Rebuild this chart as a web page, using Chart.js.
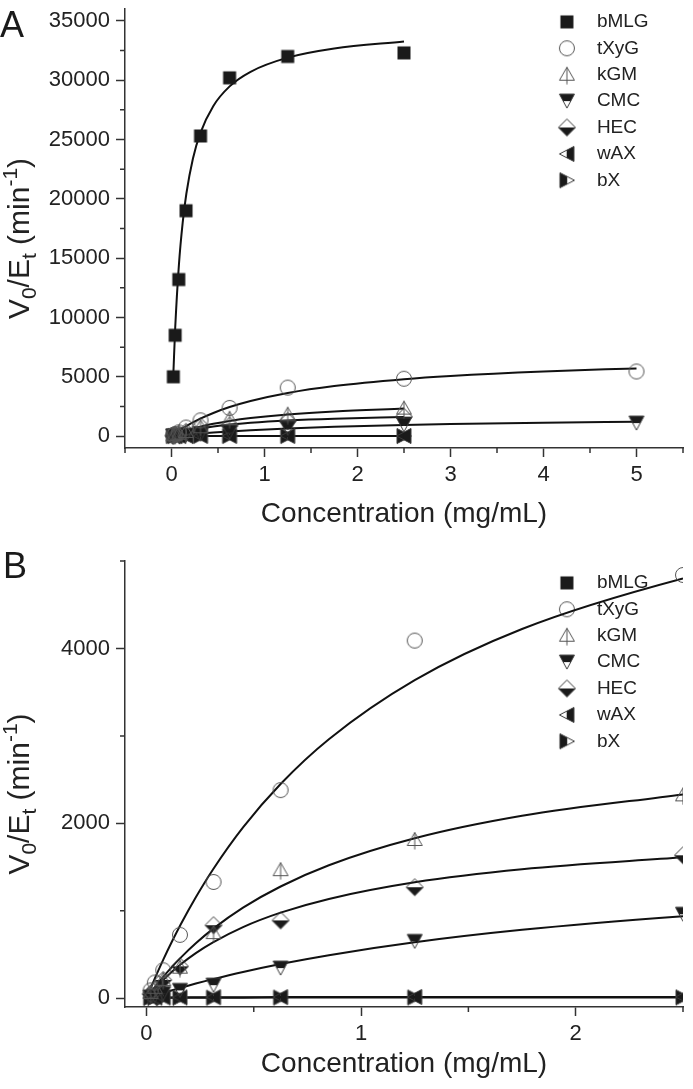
<!DOCTYPE html>
<html>
<head>
<meta charset="utf-8">
<script src="https://cdn.jsdelivr.net/npm/chart.js@4.4.0/dist/chart.umd.min.js"></script>
<style>
html, body { margin: 0; padding: 0; background: #fff; }
body { width: 693px; height: 1089px; position: relative; overflow: hidden; font-family: 'Liberation Sans', Arial, sans-serif; }
canvas { position: absolute; left: 0; }
#cA { top: 0; }
#cB { top: 545px; }
.tag { position: absolute; font-size: 36px; line-height: 36px; color: #1a1a1a; }
</style>
</head>
<body>
<canvas id="cA" width="693" height="545"></canvas>
<canvas id="cB" width="693" height="544"></canvas>
<div class="tag" style="left:0;top:7px">A</div>
<div class="tag" style="left:3px;top:548px">B</div>
<script>
// substrate concentrations (mg/mL)
var conc = [0.0195, 0.039, 0.078, 0.156, 0.3125, 0.625, 1.25, 2.5];
var concLong = [0.0195, 0.039, 0.078, 0.156, 0.3125, 0.625, 1.25, 2.5, 5];

// measured V0/Et (min-1)
var bMLG = [5000, 8500, 13200, 19000, 25300, 30200, 32000, 32300];
var tXyG = [90, 180, 320, 725, 1330, 2380, 4090, 4840, 5450];
var kGM = [60, 120, 210, 350, 745, 1465, 1810, 2320];
var CMC = [15, 30, 55, 90, 150, 345, 650, 960, 1100];
var HEC = [50, 100, 210, 365, 835, 890, 1270, 1635];
var wAX = [6, 8, 9, 10, 12, 13, 15, 16];
var bX = [3, 4, 5, 6, 7, 8, 9, 10];

// fitted curves
var fitX = [0.02, 0.04, 0.08, 0.12, 0.16, 0.23, 0.31, 0.45, 0.625, 0.85, 1.25, 1.75, 2.5];
var fitXLong = [0.02, 0.04, 0.08, 0.12, 0.16, 0.23, 0.31, 0.45, 0.625, 0.85, 1.25, 1.75, 2.5, 3, 4, 5];
var bMLGFit = [5270, 9150, 14480, 17980, 20450, 23380, 25540, 27830, 29480, 30710, 31900, 32670, 33270];
var tXyGFit = [118, 232, 450, 654, 846, 1155, 1473, 1954, 2450, 2962, 3637, 4222, 4800, 5070, 5450, 5710];
var kGMFit = [67, 130, 250, 362, 465, 628, 793, 1036, 1278, 1521, 1829, 2086, 2331];
var CMCFit = [16, 32, 62, 92, 120, 168, 219, 301, 392, 493, 640, 782, 937, 1016, 1134, 1220];
var HECFit = [58, 113, 215, 306, 389, 516, 639, 814, 979, 1136, 1326, 1475, 1611];
var wAXFit = [7, 8, 9, 10, 10, 11, 12, 12, 13, 13, 14, 15, 15];
var bXFit = [4, 4, 5, 5, 6, 6, 7, 7, 8, 8, 9, 9, 10];

// axis ticks
var xTicksA = [0, 1, 2, 3, 4, 5];
var xMinorA = [-0.5, 0.5, 1.5, 2.5, 3.5, 4.5, 5.5];
var yTicksA = [0, 5000, 10000, 15000, 20000, 25000, 30000, 35000];
var yMinorA = [2500, 7500, 12500, 17500, 22500, 27500, 32500];
var xTicksB = [0, 1, 2];
var xMinorB = [0.5, 1.5, 2.5];
var yTicksB = [0, 2000, 4000];
var yMinorB = [1000, 3000, 5000];

var FONT = "'Liberation Sans', Arial, sans-serif";
Chart.defaults.font.family = FONT;
Chart.defaults.color = "#222";

function pts(xs, ys) {
	return ys.map(function (y, i) { return { x: xs[i], y: y }; });
}

// Origin style half filled symbols
function marker(kind) {
	var c = document.createElement("canvas");
	c.width = 20;
	c.height = 20;
	var g = c.getContext("2d");
	g.lineWidth = 1;
	g.strokeStyle = "#3a3a3a";
	g.fillStyle = "#1a1a1a";
	function poly(p, fill) {
		g.beginPath();
		g.moveTo(p[0], p[1]);
		for (var i = 2; i < p.length; i += 2) g.lineTo(p[i], p[i + 1]);
		g.closePath();
		if (fill) g.fill(); else g.stroke();
	}
	if (kind == "square") {
		g.fillRect(3.5, 3.5, 13, 13);
	} else if (kind == "circle") {
		g.strokeStyle = "#555";
		g.beginPath();
		g.arc(10, 10, 7.5, 0, Math.PI * 2);
		g.stroke();
	} else if (kind == "up") {
		g.strokeStyle = "#555";
		poly([10, 2.5, 2.5, 15.5, 17.5, 15.5]);
		g.beginPath();
		g.moveTo(10, 2.5);
		g.lineTo(10, 19.5);
		g.stroke();
	} else if (kind == "down") {
		poly([2.5, 3, 17.5, 3, 13.75, 10, 6.25, 10], true);
		poly([2.5, 3, 17.5, 3, 10, 17]);
	} else if (kind == "diamond") {
		poly([1.5, 10, 18.5, 10, 10, 18.5], true);
		poly([10, 1.5, 18.5, 10, 10, 18.5, 1.5, 10]);
	} else if (kind == "left") {
		poly([9.75, 6.25, 17, 2.5, 17, 17.5, 9.75, 13.75], true);
		poly([2.5, 10, 17, 2.5, 17, 17.5]);
	} else if (kind == "right") {
		poly([3, 2.5, 10.25, 6.25, 10.25, 13.75, 3, 17.5], true);
		poly([17.5, 10, 3, 2.5, 3, 17.5]);
	}
	return c;
}

var symbols = {
	bMLG: marker("square"),
	tXyG: marker("circle"),
	kGM: marker("up"),
	CMC: marker("down"),
	HEC: marker("diamond"),
	wAX: marker("left"),
	bX: marker("right")
};

function points(label, data) {
	return {
		label: label,
		data: data,
		pointStyle: symbols[label],
		pointRadius: 8,
		showLine: false,
		borderColor: "#222",
		backgroundColor: "#222",
		order: 0
	};
}

function curve(data) {
	return {
		label: "",
		data: data,
		showLine: true,
		pointRadius: 0,
		borderColor: "#111",
		borderWidth: 2,
		cubicInterpolationMode: "monotone",
		order: 1
	};
}

// minor ticks and the y title with sub/superscripts
var axisExtras = {
	id: "axisExtras",
	afterDraw(chart, args, opts) {
		var ctx = chart.ctx;
		var a = chart.chartArea;
		var sx = chart.scales.x, sy = chart.scales.y;
		ctx.save();
		ctx.strokeStyle = "#333";
		ctx.lineWidth = 1.5;
		ctx.beginPath();
		opts.xMinor.forEach(function (v) {
			var px = sx.getPixelForValue(v);
			ctx.moveTo(px, a.bottom);
			ctx.lineTo(px, a.bottom + 5);
		});
		opts.yMinor.forEach(function (v) {
			var py = sy.getPixelForValue(v);
			ctx.moveTo(a.left, py);
			ctx.lineTo(a.left - 5, py);
		});
		ctx.stroke();

		var parts = [["V", 0], ["0", 1], ["/E", 0], ["t", 1], [" (min", 0], ["-1", -1], [")", 0]];
		var big = "30px " + FONT, small = "21px " + FONT;
		var total = 0;
		parts.forEach(function (p) {
			ctx.font = p[1] ? small : big;
			total += ctx.measureText(p[0]).width;
		});
		ctx.translate(opts.titleX, (a.top + a.bottom) / 2 + opts.titleShift);
		ctx.rotate(-Math.PI / 2);
		ctx.fillStyle = "#222";
		ctx.textBaseline = "alphabetic";
		ctx.textAlign = "left";
		var cx = -total / 2;
		parts.forEach(function (p) {
			ctx.font = p[1] ? small : big;
			ctx.fillText(p[0], cx, p[1] == 1 ? 7 : p[1] == -1 ? -12 : 0);
			cx += ctx.measureText(p[0]).width;
		});
		ctx.restore();
	}
};

// put the legend inside the plot, upper right
var legendSpot = {
	id: "legendSpot",
	afterLayout(chart, args, opts) {
		var lg = chart.legend;
		lg.left = opts.left;
		lg.top = opts.top;
		lg.right = lg.left + lg.width;
		lg.bottom = lg.top + lg.height;
	}
};

function makeChart(id, o) {
	var ctx = document.getElementById(id).getContext("2d");
	return new Chart(ctx, {
		type: "scatter",
		data: { datasets: o.datasets },
		options: {
			responsive: false,
			devicePixelRatio: 1,
			animation: false,
			layout: { padding: { left: 0, right: 10, top: o.padTop, bottom: 0 } },
			scales: {
				x: {
					type: "linear",
					min: o.xMin,
					max: o.xMax,
					afterBuildTicks: function (s) { s.ticks = o.xTicks.map(function (v) { return { value: v }; }); },
					afterFit: function (s) { s.height = o.xHeight; s.paddingLeft = 0; s.paddingRight = 0; },
					ticks: { font: { size: 22 }, color: "#222", padding: 5, callback: function (v) { return String(v); } },
					grid: { drawOnChartArea: false, tickLength: 9, tickColor: "#333", tickWidth: 1.5 },
					border: { color: "#333", width: 1.5 },
					title: { display: true, text: "Concentration (mg/mL)", font: { size: 28 }, color: "#222", padding: { top: 0, bottom: o.titlePad } }
				},
				y: {
					type: "linear",
					min: o.yMin,
					max: o.yMax,
					afterBuildTicks: function (s) { s.ticks = o.yTicks.map(function (v) { return { value: v }; }); },
					afterFit: function (s) { s.width = 125; s.paddingTop = 0; s.paddingBottom = 0; },
					ticks: { font: { size: 22 }, color: "#222", padding: 6, callback: function (v) { return String(v); } },
					grid: { drawOnChartArea: false, tickLength: 9, tickColor: "#333", tickWidth: 1.5 },
					border: { color: "#333", width: 1.5 }
				}
			},
			plugins: {
				tooltip: { enabled: false },
				legend: {
					position: "chartArea",
					align: "start",
					labels: {
						usePointStyle: true,
						pointStyleWidth: 41,
						padding: 7.4,
						font: { size: 19 },
						color: "#222",
						filter: function (item) { return item.text !== ""; }
					}
				},
				legendSpot: { left: 539, top: o.legendTop },
				axisExtras: { xMinor: o.xMinor, yMinor: o.yMinor, titleX: 29, titleShift: o.titleShift }
			}
		},
		plugins: [legendSpot, axisExtras]
	});
}

var chartA = makeChart("cA", {
	padTop: 1, xHeight: 97, titlePad: 14, legendTop: 5, titleShift: 10,
	xMin: -0.5, xMax: 5.5, yMin: -1000, yMax: 36000,
	xTicks: xTicksA, xMinor: xMinorA, yTicks: yTicksA, yMinor: yMinorA,
	datasets: [
		points("bMLG", pts(conc, bMLG)),
		points("tXyG", pts(concLong, tXyG)),
		points("kGM", pts(conc, kGM)),
		points("CMC", pts(concLong, CMC)),
		points("HEC", pts(conc, HEC)),
		points("wAX", pts(conc, wAX)),
		points("bX", pts(conc, bX)),
		curve(pts(fitX, bMLGFit)),
		curve(pts(fitXLong, tXyGFit)),
		curve(pts(fitX, kGMFit)),
		curve(pts(fitXLong, CMCFit)),
		curve(pts(fitX, HECFit)),
		curve(pts(fitX, wAXFit)),
		curve(pts(fitX, bXFit))
	]
});

// panel B zooms in to 0-2.5 mg/mL; bMLG is off scale there
var chartB = makeChart("cB", {
	padTop: 16, xHeight: 82, titlePad: 8, legendTop: 21, titleShift: 10,
	xMin: -0.1, xMax: 2.5, yMin: -100, yMax: 5000,
	xTicks: xTicksB, xMinor: xMinorB, yTicks: yTicksB, yMinor: yMinorB,
	datasets: [
		points("bMLG", pts(conc, bMLG).filter(function (p) { return p.y < 5000; })),
		points("tXyG", pts(concLong, tXyG)),
		points("kGM", pts(conc, kGM)),
		points("CMC", pts(concLong, CMC)),
		points("HEC", pts(conc, HEC)),
		points("wAX", pts(conc, wAX)),
		points("bX", pts(conc, bX)),
		curve(pts(fitX, bMLGFit)),
		curve(pts(fitXLong, tXyGFit)),
		curve(pts(fitX, kGMFit)),
		curve(pts(fitXLong, CMCFit)),
		curve(pts(fitX, HECFit)),
		curve(pts(fitX, wAXFit)),
		curve(pts(fitX, bXFit))
	]
});
</script>
</body>
</html>
